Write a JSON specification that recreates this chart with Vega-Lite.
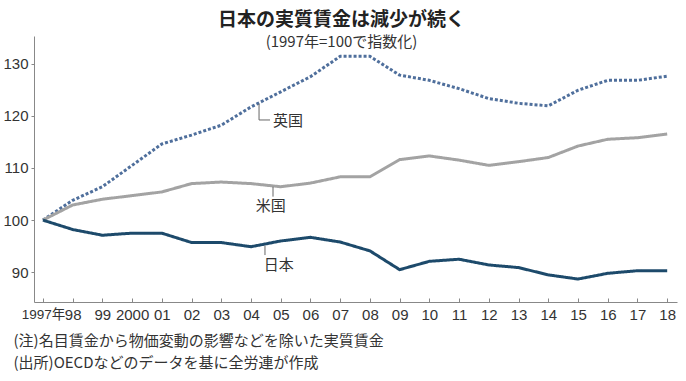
{
  "$schema": "https://vega.github.io/schema/vega-lite/v6.json",
  "width": 643,
  "height": 266,
  "autosize": {"type": "none"},
  "padding": {"left": 34, "top": 36, "right": 9, "bottom": 79},
  "background": "white",
  "config": {"view": {"stroke": null}},
  "title": {
    "text": "日本の実質賃金は減少が続く",
    "subtitle": "(1997年=100で指数化)",
    "anchor": "middle",
    "frame": "group",
    "dx": -14,
    "offset": -14,
    "font": "Noto Sans CJK JP",
    "fontSize": 19,
    "fontWeight": "bold",
    "color": "#222",
    "subtitleFont": "Noto Sans CJK JP",
    "subtitleFontSize": 15,
    "subtitleColor": "#333",
    "subtitlePadding": 5
  },
  "datasets": {
    "series": [
      {"year": 1997, "country": "英国", "value": 100},
      {"year": 1998, "country": "英国", "value": 103.8},
      {"year": 1999, "country": "英国", "value": 106.4},
      {"year": 2000, "country": "英国", "value": 110.5},
      {"year": 2001, "country": "英国", "value": 114.6},
      {"year": 2002, "country": "英国", "value": 116.3},
      {"year": 2003, "country": "英国", "value": 118.2},
      {"year": 2004, "country": "英国", "value": 121.7},
      {"year": 2005, "country": "英国", "value": 124.6},
      {"year": 2006, "country": "英国", "value": 127.5},
      {"year": 2007, "country": "英国", "value": 131.4},
      {"year": 2008, "country": "英国", "value": 131.4},
      {"year": 2009, "country": "英国", "value": 127.8},
      {"year": 2010, "country": "英国", "value": 126.8},
      {"year": 2011, "country": "英国", "value": 125.2},
      {"year": 2012, "country": "英国", "value": 123.3},
      {"year": 2013, "country": "英国", "value": 122.4},
      {"year": 2014, "country": "英国", "value": 121.9},
      {"year": 2015, "country": "英国", "value": 124.9},
      {"year": 2016, "country": "英国", "value": 126.8},
      {"year": 2017, "country": "英国", "value": 126.8},
      {"year": 2018, "country": "英国", "value": 127.6},
      {"year": 1997, "country": "米国", "value": 100},
      {"year": 1998, "country": "米国", "value": 102.9},
      {"year": 1999, "country": "米国", "value": 104.0},
      {"year": 2000, "country": "米国", "value": 104.7},
      {"year": 2001, "country": "米国", "value": 105.4},
      {"year": 2002, "country": "米国", "value": 107.0},
      {"year": 2003, "country": "米国", "value": 107.3},
      {"year": 2004, "country": "米国", "value": 107.0},
      {"year": 2005, "country": "米国", "value": 106.4},
      {"year": 2006, "country": "米国", "value": 107.1},
      {"year": 2007, "country": "米国", "value": 108.3},
      {"year": 2008, "country": "米国", "value": 108.3},
      {"year": 2009, "country": "米国", "value": 111.6},
      {"year": 2010, "country": "米国", "value": 112.3},
      {"year": 2011, "country": "米国", "value": 111.5},
      {"year": 2012, "country": "米国", "value": 110.5},
      {"year": 2013, "country": "米国", "value": 111.2},
      {"year": 2014, "country": "米国", "value": 112.0},
      {"year": 2015, "country": "米国", "value": 114.2},
      {"year": 2016, "country": "米国", "value": 115.5},
      {"year": 2017, "country": "米国", "value": 115.8},
      {"year": 2018, "country": "米国", "value": 116.5},
      {"year": 1997, "country": "日本", "value": 100},
      {"year": 1998, "country": "日本", "value": 98.2},
      {"year": 1999, "country": "日本", "value": 97.1},
      {"year": 2000, "country": "日本", "value": 97.5},
      {"year": 2001, "country": "日本", "value": 97.5},
      {"year": 2002, "country": "日本", "value": 95.7},
      {"year": 2003, "country": "日本", "value": 95.7},
      {"year": 2004, "country": "日本", "value": 94.9},
      {"year": 2005, "country": "日本", "value": 96.0},
      {"year": 2006, "country": "日本", "value": 96.7},
      {"year": 2007, "country": "日本", "value": 95.8},
      {"year": 2008, "country": "日本", "value": 94.1},
      {"year": 2009, "country": "日本", "value": 90.5},
      {"year": 2010, "country": "日本", "value": 92.1},
      {"year": 2011, "country": "日本", "value": 92.5},
      {"year": 2012, "country": "日本", "value": 91.4},
      {"year": 2013, "country": "日本", "value": 90.9},
      {"year": 2014, "country": "日本", "value": 89.5},
      {"year": 2015, "country": "日本", "value": 88.7},
      {"year": 2016, "country": "日本", "value": 89.8},
      {"year": 2017, "country": "日本", "value": 90.3},
      {"year": 2018, "country": "日本", "value": 90.3}
    ],
    "leaders": [
      {"year": 2004.27, "year2": 2004.27, "value": 122.3, "value2": 119.2},
      {"year": 2004.27, "year2": 2004.64, "value": 119.2, "value2": 119.2},
      {"year": 2004.74, "year2": 2004.74, "value": 106.4, "value2": 104.5},
      {"year": 2004.47, "year2": 2004.47, "value": 95.1, "value2": 93.3}
    ],
    "labels": [
      {"year": 2004.74, "value": 119.0, "text": "英国"},
      {"year": 2004.16, "value": 102.8, "text": "米国"},
      {"year": 2004.43, "value": 91.3, "text": "日本"}
    ]
  },
  "encoding": {
    "x": {
      "field": "year",
      "type": "quantitative",
      "scale": {"domain": [1996.7, 2018.33], "nice": false, "zero": false},
      "axis": {
        "values": [1997, 1998, 1999, 2000, 2001, 2002, 2003, 2004, 2005, 2006, 2007, 2008, 2009, 2010, 2011, 2012, 2013, 2014, 2015, 2016, 2017, 2018],
        "labelExpr": "datum.value == 1997 ? '1997年' : (datum.value == 2000 ? '2000' : slice(toString(datum.value), 2))",
        "grid": false,
        "domainColor": "#888",
        "tickColor": "#888",
        "tickSize": -4,
        "labelPadding": 9,
        "labelFont": "Liberation Sans, Noto Sans CJK JP",
        "labelFontSize": {"condition": {"test": "datum.value == 1997", "value": 13.5}, "value": 15},
        "labelColor": "#333",
        "labelFlush": false,
        "labelOverlap": false,
        "labelBaseline": "top",
        "title": ["(注)名目賃金から物価変動の影響などを除いた実質賃金", "(出所)OECDなどのデータを基に全労連が作成"],
        "titleAnchor": "start",
        "titleAlign": "left",
        "titleBaseline": "top",
        "titleX": -21,
        "titleY": 31,
        "titleFont": "Noto Sans CJK JP",
        "titleFontSize": 15,
        "titleFontWeight": "normal",
        "titleColor": "#333",
        "titleLineHeight": 22
      }
    },
    "y": {
      "field": "value",
      "type": "quantitative",
      "scale": {"domain": [84.3, 135.3], "nice": false, "zero": false},
      "axis": {
        "values": [90, 100, 110, 120, 130],
        "grid": false,
        "domainColor": "#888",
        "tickColor": "#888",
        "tickSize": 3,
        "labelPadding": 3,
        "labelFont": "Liberation Sans",
        "labelFontSize": 15,
        "labelColor": "#333",
        "title": null
      }
    }
  },
  "layer": [
    {
      "data": {"name": "series"},
      "mark": {"type": "line", "strokeJoin": "round"},
      "encoding": {
        "color": {
          "field": "country",
          "type": "nominal",
          "scale": {"domain": ["英国", "米国", "日本"], "range": ["#4f6f9c", "#a3a3a3", "#1d4a6b"]},
          "legend": null
        },
        "strokeDash": {
          "field": "country",
          "type": "nominal",
          "scale": {"domain": ["英国", "米国", "日本"], "range": [[3, 2], [1, 0], [1, 0]]},
          "legend": null
        },
        "strokeWidth": {
          "field": "country",
          "type": "nominal",
          "scale": {"domain": ["英国", "米国", "日本"], "range": [3, 3, 3.5]},
          "legend": null
        }
      }
    },
    {
      "data": {"name": "leaders"},
      "mark": {"type": "rule", "color": "#666", "strokeWidth": 1},
      "encoding": {
        "x2": {"field": "year2"},
        "y2": {"field": "value2"}
      }
    },
    {
      "data": {"name": "labels"},
      "mark": {"type": "text", "align": "left", "baseline": "middle", "font": "Noto Sans CJK JP", "fontSize": 15, "color": "#333"},
      "encoding": {
        "text": {"field": "text"}
      }
    }
  ]
}
